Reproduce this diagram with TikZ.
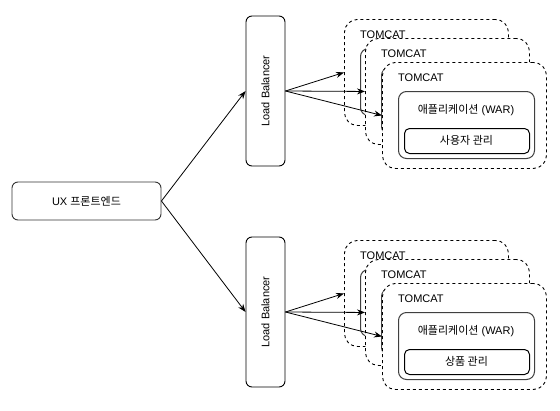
\documentclass[tikz,border=0pt]{standalone}
\usepackage{fontspec}
\setmainfont{Liberation Sans}
\newfontfamily\kr{Noto Sans CJK KR}
\usetikzlibrary{arrows.meta}
\tikzset{
  every node/.style={font=\fontsize{11}{13}\selectfont, inner sep=0pt},
  tomcatbox/.style={draw, fill=white, dash pattern=on 3pt off 3pt, rounded corners=13pt,
    minimum width=164pt, minimum height=106pt, anchor=north west, line width=0.9pt},
  appbox/.style={draw=black!75, fill=white, rounded corners=8pt, minimum width=136pt,
    minimum height=67pt, anchor=north west, line width=1pt},
  svcbox/.style={draw, fill=white, rounded corners=5pt, minimum width=125pt,
    minimum height=25pt, anchor=north west, line width=1pt},
  lbbox/.style={draw, fill=white, rounded corners=6pt, minimum width=39pt,
    minimum height=150pt, line width=0.9pt},
  uxbox/.style={draw=black!80, fill=white, rounded corners=6pt, minimum width=149pt,
    minimum height=38pt, line width=0.9pt},
  arr/.style={-{Stealth[length=8pt,width=6pt]}, line width=0.8pt},
}
% a layer partly hidden behind the next one: only box, label and app box edge show
\newcommand\tomcatback[3]{%
  \node[tomcatbox] (#3) at (#1,#2) {};
  \node[anchor=west] (#3lbl) at ({#1+16},{#2+16}) {TOMCAT};
  \node[appbox] (#3app) at ({#1+16},{#2+29}) {};
}
\newcommand\tomcatfront[4]{%
  \node[tomcatbox] (#4) at (#1,#2) {};
  \node[anchor=west] (#4lbl) at ({#1+16},{#2+16}) {TOMCAT};
  \node[appbox] (#4app) at ({#1+16},{#2+29}) {};
  \node (#4apt) at ({#1+84},{#2+48}) {{\kr 애플리케이션} (WAR)};
  \node[svcbox] (#4svc) at ({#1+22},{#2+66}) {};
  \node (#4svt) at ({#1+84.5},{#2+78.5}) {\kr #3};
}
\begin{document}
\begin{tikzpicture}[x=1pt,y=-1pt]
\useasboundingbox (0,0) rectangle (560,410);
% front-end
\node[uxbox] (ux) at (86.5,201) {};
\node (uxt) at (ux.center) {UX {\kr 프론트엔드}};
% upper group
\node[lbbox] (lb1) at (265.5,91) {};
\node[rotate=90] (lb1t) at (lb1.center) {Load Balancer};
\tomcatback{344}{19}{ta}
\tomcatback{365}{38}{tb}
\tomcatfront{382}{62}{사용자 관리}{tc}
% lower group
\node[lbbox] (lb2) at (265.5,312) {};
\node[rotate=90] (lb2t) at (lb2.center) {Load Balancer};
\tomcatback{344}{240}{ua}
\tomcatback{365}{259}{ub}
\tomcatfront{382}{283}{상품 관리}{uc}
% connectors
\draw[arr] (ux.east) -- (lb1.west);
\draw[arr] (ux.east) -- (lb2.west);
\draw[arr] (lb1.east) -- (ta.west);
\draw[arr] (lb1.east) -- (tb.west);
\draw[arr] (lb1.east) -- (tc.west);
\draw[arr] (lb2.east) -- (ua.west);
\draw[arr] (lb2.east) -- (ub.west);
\draw[arr] (lb2.east) -- (uc.west);
\end{tikzpicture}
\end{document}
